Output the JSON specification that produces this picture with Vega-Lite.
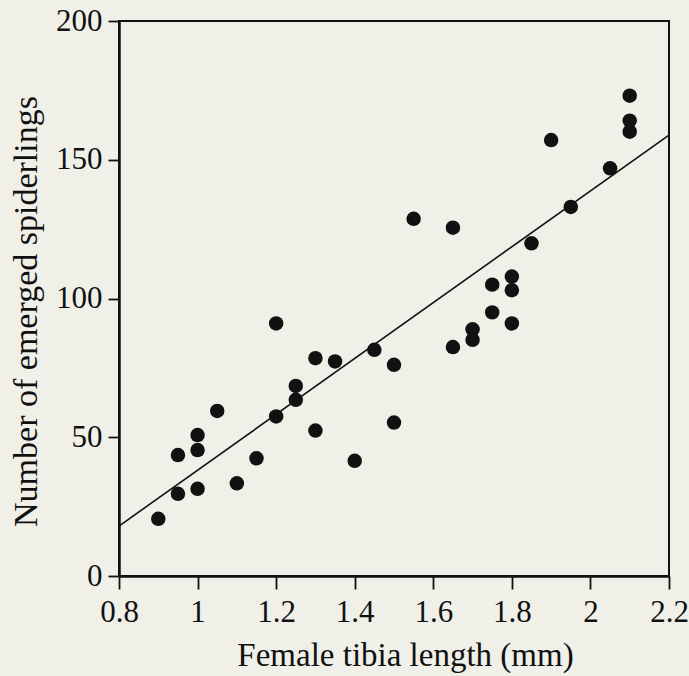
{
  "$schema": "https://vega.github.io/schema/vega-lite/v6.json",
  "width": 550,
  "height": 555,
  "autosize": "none",
  "padding": {"left": 119, "top": 21, "right": 20, "bottom": 100},
  "background": "#f0f0e8",
  "config": {
    "view": {"stroke": "#111111", "strokeWidth": 2},
    "font": "Liberation Serif",
    "axis": {
      "grid": false,
      "domainColor": "#111111",
      "domainWidth": 2.5,
      "tickColor": "#111111",
      "tickWidth": 1.8,
      "labelFont": "Liberation Serif",
      "labelFontSize": 31,
      "labelColor": "#111111",
      "titleFont": "Liberation Serif",
      "titleFontSize": 33,
      "titleFontWeight": "normal",
      "titleColor": "#111111"
    }
  },
  "datasets": {
    "points": [
      {"tibia": 0.9, "spiderlings": 20.6},
      {"tibia": 0.95, "spiderlings": 29.6},
      {"tibia": 0.95, "spiderlings": 43.6},
      {"tibia": 1.0, "spiderlings": 31.4},
      {"tibia": 1.0, "spiderlings": 45.4},
      {"tibia": 1.0, "spiderlings": 50.8},
      {"tibia": 1.05, "spiderlings": 59.5},
      {"tibia": 1.1, "spiderlings": 33.4},
      {"tibia": 1.15, "spiderlings": 42.4},
      {"tibia": 1.2, "spiderlings": 57.5},
      {"tibia": 1.2, "spiderlings": 91},
      {"tibia": 1.25, "spiderlings": 63.5},
      {"tibia": 1.25, "spiderlings": 68.5},
      {"tibia": 1.3, "spiderlings": 52.4},
      {"tibia": 1.3, "spiderlings": 78.5},
      {"tibia": 1.35, "spiderlings": 77.3},
      {"tibia": 1.4, "spiderlings": 41.5},
      {"tibia": 1.45, "spiderlings": 81.5},
      {"tibia": 1.5, "spiderlings": 55.3},
      {"tibia": 1.5, "spiderlings": 76.1},
      {"tibia": 1.55, "spiderlings": 128.7},
      {"tibia": 1.65, "spiderlings": 82.5},
      {"tibia": 1.65, "spiderlings": 125.5},
      {"tibia": 1.7, "spiderlings": 85.1},
      {"tibia": 1.7, "spiderlings": 88.9},
      {"tibia": 1.75, "spiderlings": 95},
      {"tibia": 1.75, "spiderlings": 105},
      {"tibia": 1.8, "spiderlings": 91},
      {"tibia": 1.8, "spiderlings": 103},
      {"tibia": 1.8, "spiderlings": 107.9},
      {"tibia": 1.85, "spiderlings": 119.9},
      {"tibia": 1.9, "spiderlings": 157.1},
      {"tibia": 1.95, "spiderlings": 133},
      {"tibia": 2.05, "spiderlings": 146.9},
      {"tibia": 2.1, "spiderlings": 160.1},
      {"tibia": 2.1, "spiderlings": 164.1},
      {"tibia": 2.1, "spiderlings": 173.1}
    ],
    "fit": [
      {"tibia": 0.8, "spiderlings": 18},
      {"tibia": 2.2, "spiderlings": 158.9}
    ]
  },
  "layer": [
    {
      "data": {"name": "fit"},
      "mark": {"type": "line", "color": "#111111", "strokeWidth": 1.6},
      "encoding": {
        "x": {"field": "tibia", "type": "quantitative"},
        "y": {"field": "spiderlings", "type": "quantitative"}
      }
    },
    {
      "data": {"name": "points"},
      "mark": {"type": "circle", "size": 210, "color": "#111111", "opacity": 1},
      "encoding": {
        "x": {
          "field": "tibia",
          "type": "quantitative",
          "scale": {"domain": [0.8, 2.2], "nice": false, "zero": false},
          "axis": {
            "title": "Female tibia length (mm)",
            "titleX": 286,
            "values": [0.8, 1, 1.2, 1.4, 1.6, 1.8, 2, 2.2],
            "format": "~g",
            "tickSize": 13,
            "labelPadding": 8,
            "titlePadding": 12,
            "labelFlush": false
          }
        },
        "y": {
          "field": "spiderlings",
          "type": "quantitative",
          "scale": {"domain": [0, 200], "nice": false},
          "axis": {
            "title": "Number of emerged spiderlings",
            "titleFontSize": 34,
            "titleY": 290,
            "values": [0, 50, 100, 150, 200],
            "tickSize": 11,
            "labelPadding": 6,
            "titlePadding": 12
          }
        }
      }
    }
  ]
}
